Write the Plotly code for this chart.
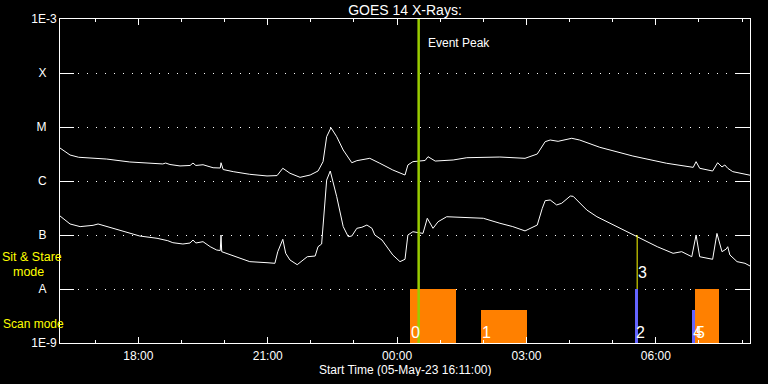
import pandas as pd
import numpy as np
import plotly.graph_objects as go

# ---------------- data ----------------
long_time = [
    "2023-05-05 16:11", "2023-05-05 16:25", "2023-05-05 16:37", "2023-05-05 17:16", "2023-05-05 17:48",
    "2023-05-05 18:19", "2023-05-05 18:34", "2023-05-05 18:38", "2023-05-05 18:44", "2023-05-05 18:58",
    "2023-05-05 19:12", "2023-05-05 19:16", "2023-05-05 19:20", "2023-05-05 19:30", "2023-05-05 19:44",
    "2023-05-05 19:54", "2023-05-05 19:55", "2023-05-05 19:58", "2023-05-05 20:12", "2023-05-05 20:35",
    "2023-05-05 20:59", "2023-05-05 21:13", "2023-05-05 21:21", "2023-05-05 21:31", "2023-05-05 21:45",
    "2023-05-05 21:59", "2023-05-05 22:10", "2023-05-05 22:17", "2023-05-05 22:22", "2023-05-05 22:28",
    "2023-05-05 22:36", "2023-05-05 22:45", "2023-05-05 22:57", "2023-05-05 23:04", "2023-05-05 23:22",
    "2023-05-05 23:36", "2023-05-05 23:54", "2023-05-06 00:11", "2023-05-06 00:15", "2023-05-06 00:22",
    "2023-05-06 00:39", "2023-05-06 00:43", "2023-05-06 00:53", "2023-05-06 01:18", "2023-05-06 01:37",
    "2023-05-06 02:23", "2023-05-06 02:58", "2023-05-06 03:15", "2023-05-06 03:26", "2023-05-06 03:33",
    "2023-05-06 03:44", "2023-05-06 04:03", "2023-05-06 04:14", "2023-05-06 04:42", "2023-05-06 05:28",
    "2023-05-06 06:15", "2023-05-06 06:41", "2023-05-06 06:52", "2023-05-06 06:56", "2023-05-06 07:01",
    "2023-05-06 07:19", "2023-05-06 07:26", "2023-05-06 07:32", "2023-05-06 07:36", "2023-05-06 07:40",
    "2023-05-06 07:47", "2023-05-06 08:11",
]
long_flux = [
    4.08e-6, 3.03e-6, 2.75e-6, 2.55e-6, 2.25e-6,
    2.13e-6, 2.07e-6, 2.15e-6, 2.02e-6, 1.90e-6,
    1.94e-6, 2.15e-6, 1.94e-6, 2.00e-6, 1.76e-6,
    1.74e-6, 2.18e-6, 1.63e-6, 1.49e-6, 1.33e-6,
    1.24e-6, 1.26e-6, 1.72e-6, 1.39e-6, 1.17e-6,
    1.29e-6, 1.53e-6, 2.28e-6, 6.61e-6, 9.70e-6,
    6.61e-6, 3.75e-6, 2.18e-6, 2.38e-6, 2.63e-6,
    2.13e-6, 1.60e-6, 1.29e-6, 1.98e-6, 2.28e-6,
    2.40e-6, 2.82e-6, 2.34e-6, 2.45e-6, 2.70e-6,
    2.78e-6, 2.63e-6, 3.16e-6, 5.35e-6, 5.74e-6,
    5.43e-6, 6.18e-6, 5.74e-6, 4.21e-6, 2.90e-6,
    2.13e-6, 1.92e-6, 1.79e-6, 2.28e-6, 1.72e-6,
    1.53e-6, 2.18e-6, 1.82e-6, 1.98e-6, 1.72e-6,
    1.49e-6, 1.28e-6,
]

short_time = [
    "2023-05-05 16:11", "2023-05-05 16:25", "2023-05-05 16:39", "2023-05-05 16:57", "2023-05-05 17:04",
    "2023-05-05 17:25", "2023-05-05 17:44", "2023-05-05 18:02", "2023-05-05 18:26", "2023-05-05 18:41",
    "2023-05-05 18:48", "2023-05-05 19:02", "2023-05-05 19:12", "2023-05-05 19:16", "2023-05-05 19:20",
    "2023-05-05 19:30", "2023-05-05 19:40", "2023-05-05 19:49", "2023-05-05 19:54", "2023-05-05 19:55",
    "2023-05-05 19:56", "2023-05-05 20:12", "2023-05-05 20:35", "2023-05-05 20:59", "2023-05-05 21:10",
    "2023-05-05 21:14", "2023-05-05 21:21", "2023-05-05 21:25", "2023-05-05 21:31", "2023-05-05 21:41",
    "2023-05-05 21:55", "2023-05-05 22:06", "2023-05-05 22:10", "2023-05-05 22:15", "2023-05-05 22:18",
    "2023-05-05 22:22", "2023-05-05 22:27", "2023-05-05 22:36", "2023-05-05 22:45", "2023-05-05 22:52",
    "2023-05-05 22:57", "2023-05-05 23:04", "2023-05-05 23:11", "2023-05-05 23:18", "2023-05-05 23:25",
    "2023-05-05 23:29", "2023-05-05 23:39", "2023-05-05 23:54", "2023-05-06 00:04", "2023-05-06 00:11",
    "2023-05-06 00:15", "2023-05-06 00:22", "2023-05-06 00:36", "2023-05-06 00:42", "2023-05-06 00:50",
    "2023-05-06 00:57", "2023-05-06 01:09", "2023-05-06 01:37", "2023-05-06 02:00", "2023-05-06 02:23",
    "2023-05-06 02:41", "2023-05-06 02:58", "2023-05-06 03:15", "2023-05-06 03:22", "2023-05-06 03:26",
    "2023-05-06 03:33", "2023-05-06 03:42", "2023-05-06 03:49", "2023-05-06 04:01", "2023-05-06 04:05",
    "2023-05-06 04:24", "2023-05-06 04:38", "2023-05-06 05:06", "2023-05-06 05:34", "2023-05-06 06:02",
    "2023-05-06 06:24", "2023-05-06 06:36", "2023-05-06 06:50", "2023-05-06 06:56", "2023-05-06 07:01",
    "2023-05-06 07:15", "2023-05-06 07:19", "2023-05-06 07:25", "2023-05-06 07:32", "2023-05-06 07:38",
    "2023-05-06 07:40", "2023-05-06 07:43", "2023-05-06 07:53", "2023-05-06 08:04", "2023-05-06 08:11",
]
short_flux = [
    2.25e-7, 1.60e-7, 1.43e-7, 1.51e-7, 1.60e-7,
    1.33e-7, 1.10e-7, 9.57e-8, 8.69e-8, 7.84e-8,
    7.20e-8, 6.81e-8, 7.11e-8, 8.07e-8, 7.11e-8,
    7.52e-8, 6.07e-8, 5.27e-8, 5.16e-8, 1.00e-7,
    4.91e-8, 4.08e-8, 3.21e-8, 3.07e-8, 2.99e-8,
    4.91e-8, 8.32e-8, 4.58e-8, 3.44e-8, 2.82e-8,
    3.96e-8, 4.08e-8, 6.07e-8, 6.81e-8, 2.52e-7,
    1.04e-6, 1.53e-6, 5.12e-7, 1.43e-7, 9.31e-8,
    9.57e-8, 1.33e-7, 1.39e-7, 1.53e-7, 1.33e-7,
    1.00e-7, 8.07e-8, 4.27e-8, 3.21e-8, 3.55e-8,
    1.00e-7, 1.15e-7, 1.07e-7, 2.04e-7, 1.33e-7,
    1.76e-7, 2.18e-7, 2.13e-7, 2.04e-7, 1.65e-7,
    1.43e-7, 1.19e-7, 1.53e-7, 3.12e-7, 4.32e-7,
    4.45e-7, 3.60e-7, 3.87e-7, 5.27e-7, 5.20e-7,
    2.90e-7, 2.18e-7, 1.43e-7, 9.57e-8, 6.07e-8,
    4.58e-8, 4.91e-8, 3.96e-8, 1.00e-7, 3.96e-8,
    3.55e-8, 3.55e-8, 1.07e-7, 4.91e-8, 5.50e-8,
    6.07e-8, 4.27e-8, 3.21e-8, 2.99e-8, 2.67e-8,
]

# observation blocks
obs_id = ["0", "1", "2", "4", "5"]
obs_start = ["2023-05-06 00:18", "2023-05-06 01:57", "2023-05-06 05:31", "2023-05-06 06:50", "2023-05-06 06:54"]
obs_end = ["2023-05-06 01:22", "2023-05-06 03:01", "2023-05-06 05:35", "2023-05-06 06:54", "2023-05-06 07:28"]
obs_level = [1e-8, 4e-9, 1e-8, 4e-9, 1e-8]
obs_group = ["a", "a", "b", "b", "a"]

event3_id = "3"
event3_time = "2023-05-06 05:34"
event3_low = 1e-8
event3_high = 1e-7

event_peak_time = "2023-05-06 00:30"
x_start = "2023-05-05 16:11"
x_end = "2023-05-06 08:11"

y_tick_vals = [1e-9, 1e-8, 1e-7, 1e-6, 1e-5, 1e-4, 1e-3]
y_tick_text = ["1E-9", "A", "B", "C", "M", "X", "1E-3"]

# ---------------- styles ----------------
group_color = {"a": "#ff8000", "b": "#6464ff"}
FONT = "Liberation Sans, Arial, sans-serif"
BASE = 1e-9

fig = go.Figure()

fig.add_trace(go.Scatter(x=pd.to_datetime(long_time), y=long_flux, mode="lines",
                         line=dict(color="white", width=1), hoverinfo="skip"))
fig.add_trace(go.Scatter(x=pd.to_datetime(short_time), y=short_flux, mode="lines",
                         line=dict(color="white", width=1), hoverinfo="skip"))

st = pd.to_datetime(obs_start)
en = pd.to_datetime(obs_end)
centers = st + (en - st) / 2
widths = [(e - s).total_seconds() * 1000 for s, e in zip(st, en)]
fig.add_trace(go.Bar(x=centers, y=[lv - BASE for lv in obs_level], base=BASE, width=widths,
                     marker=dict(color=[group_color[g] for g in obs_group], line=dict(width=0)),
                     hoverinfo="skip"))

fig.add_trace(go.Scatter(x=pd.to_datetime([event3_time, event3_time]), y=[event3_low, event3_high],
                         mode="lines", line=dict(color="#ffff00", width=1), hoverinfo="skip"))

fig.add_shape(type="line", xref="x", yref="paper", x0=event_peak_time, x1=event_peak_time,
              y0=0, y1=1, line=dict(color="#99cc00", width=2.5), layer="above")

ann = []
ann.append(dict(x=event_peak_time, xref="x", y=0.926, yref="paper", text="Event Peak",
                showarrow=False, xanchor="left", yanchor="middle", xshift=7,
                font=dict(color="white", size=12, family=FONT)))
for i, s in zip(obs_id, obs_start):
    ann.append(dict(x=s, xref="x", y=0.031, yref="paper", text=i, showarrow=False,
                    xanchor="left", yanchor="middle", xshift=-1,
                    font=dict(color="white", size=16, family=FONT)))
ann.append(dict(x=event3_time, xref="x", y=0.219, yref="paper", text=event3_id, showarrow=False,
                xanchor="left", yanchor="middle", xshift=-1,
                font=dict(color="white", size=16, family=FONT)))
ann.append(dict(x=-0.085, xref="paper", y=0.266, yref="paper", text="Sit & Stare", showarrow=False,
                xanchor="left", yanchor="middle", height=12, borderpad=0,
                font=dict(color="#ffff00", size=12.5, family=FONT)))
ann.append(dict(x=-0.069, xref="paper", y=0.219, yref="paper", text="mode", showarrow=False,
                xanchor="left", yanchor="middle", height=12, borderpad=0,
                font=dict(color="#ffff00", size=12.5, family=FONT)))
ann.append(dict(x=-0.085, xref="paper", y=0.058, yref="paper", text="Scan mode", showarrow=False,
                xanchor="left", yanchor="middle",
                font=dict(color="#ffff00", size=12, family=FONT)))
ann.append(dict(x=0.5, xref="paper", y=-0.082, yref="paper", text="Start Time (05-May-23 16:11:00)",
                showarrow=False, xanchor="center", yanchor="middle", height=13,
                font=dict(color="white", size=12, family=FONT)))

ytext = [t if len(t) > 1 else t + "\u00a0\u00a0\u00a0" for t in y_tick_text]

fig.update_layout(
    width=768, height=384,
    paper_bgcolor="black", plot_bgcolor="black",
    margin=dict(l=60, r=18, t=19, b=41),
    showlegend=False,
    bargap=0,
    title=dict(text="GOES 14 X-Rays:", x=0.5, xref="paper", y=1 - 10 / 384, yref="container",
               xanchor="center", yanchor="middle", font=dict(color="white", size=14, family=FONT)),
    annotations=ann,
    xaxis=dict(type="date", range=[x_start, x_end], showline=True, linecolor="white", linewidth=1,
               mirror="ticks", ticks="inside", ticklen=6, tickcolor="white", tickwidth=1,
               dtick=3 * 3600000, tickformat="%H:%M", showgrid=False, zeroline=False,
               ticklabelstandoff=2,
               tickfont=dict(color="white", size=12, family=FONT),
               minor=dict(dtick=3600000, ticks="inside", ticklen=3, tickcolor="white", showgrid=False)),
    yaxis=dict(type="log", range=[-9, -3], showline=True, linecolor="white", linewidth=1,
               mirror="ticks", ticks="inside", ticklen=14, tickcolor="white", tickwidth=1,
               tickmode="array", tickvals=y_tick_vals, ticktext=ytext,
               showgrid=True, gridcolor="white", gridwidth=1, griddash="1px,8px", zeroline=False,
               tickfont=dict(color="white", size=12, family=FONT)),
)

fig.write_html("out.html", config={"displayModeBar": False},
               post_script="document.body.style.margin='0';")
